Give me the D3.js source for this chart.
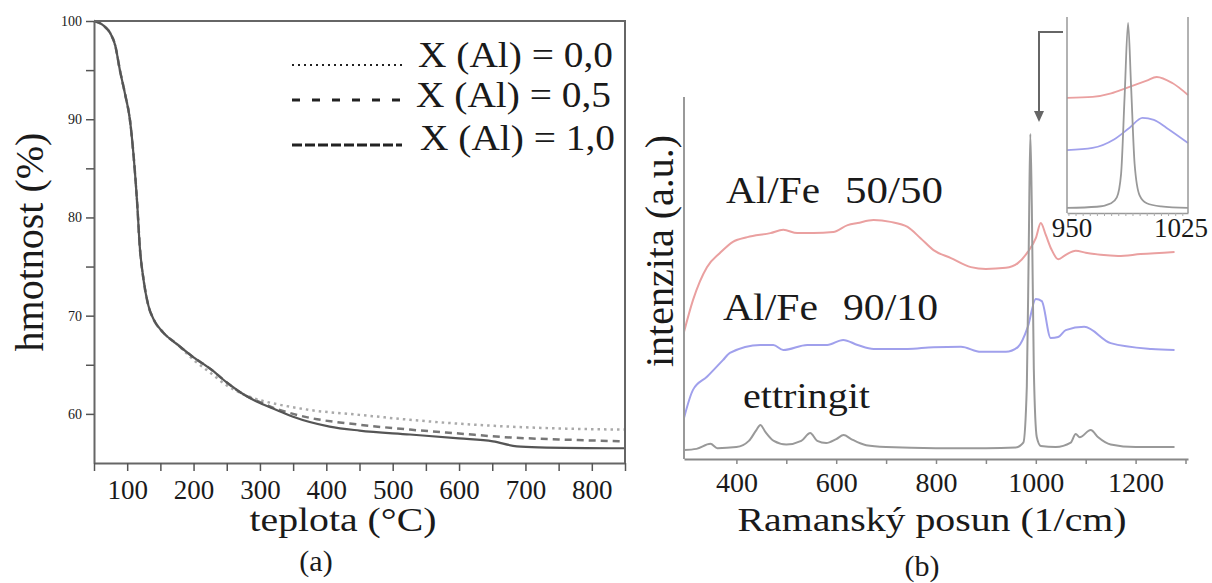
<html>
<head>
<style>
body { margin: 0; background: #fff; }
svg text { font-family: "Liberation Serif", "DejaVu Serif", serif !important; fill: #1a1a1a; }
</style>
</head>
<body>
<script src="https://cdn.jsdelivr.net/npm/d3@7"></script>
<svg width="1212" height="583" id="fig" font-family="Liberation Serif, DejaVu Serif, serif"></svg>
<script>
// (a) TGA - hmotnost vs teplota
var tga00 = [[50,100],[65,99.5],[75,98.7],[82,97.5],[89,95],[97,92.5],[104,90],[110,86],[115,81.5],[119,77],[125,73.5],[132,71],[140,69.6],[154,68.3],[175,67.1],
  [200,65.5],[225,64.2],[250,62.9],[275,62.0],[300,61.4],[325,61.0],[375,60.4],[450,59.9],[526,59.4],[600,59.0],[677,58.7],[760,58.5],[850,58.4]];
var tga05 = [[50,100],[65,99.5],[75,98.7],[82,97.5],[89,95],[97,92.5],[104,90],[110,86],[115,81.5],[119,77],[125,73.5],[132,71],[140,69.6],[154,68.3],[175,67.1],
  [199,65.8],[225,64.6],[250,63.2],[275,62],[300,61.2],[325,60.5],[350,60.0],[375,59.6],[450,58.9],[526,58.4],[600,58.0],[677,57.6],[750,57.4],[850,57.2]];
var tga10 = [[50,100],[65,99.5],[75,98.7],[82,97.5],[89,95],[97,92.5],[104,90],[110,86],[115,81.5],[119,77],[125,73.5],[132,71],[140,69.6],[154,68.3],[175,67.1],
  [199,65.8],[225,64.6],[250,63.2],[275,62],[300,61.1],[325,60.4],[350,59.7],[405,58.7],[450,58.3],[526,57.9],[600,57.5],[651,57.2],[687,56.7],[720,56.6],[850,56.5]];
var legendLabels = ["X (Al) = 0,0", "X (Al) = 0,5", "X (Al) = 1,0"];
var tgaXTicks = [100, 200, 300, 400, 500, 600, 700, 800];
var tgaYTicks = [60, 70, 80, 90, 100];

// (b) Raman spektra
var red5050 = [[295,35.1],[313,43.9],[341,53.0],[367,56.9],[393,60.0],[422,61.3],[468,62.4],[494,63.3],[522,62.4],[554,62.4],[594,62.7],[623,64.6],[643,65.2],[675,66.0],[709,65.5],[743,64.1],[769,61.0],[795,57.7],[830,55.5],[870,53.0],[900,52.5],[940,52.8],[964,54.1],[984,57.2],[1000,61.0],[1010,65.2],[1020,61.9],[1031,58.0],[1045,55.2],[1060,56.4],[1080,57.5],[1100,57.0],[1130,56.4],[1165,56.1],[1210,56.6],[1278,57.2]];
var blue9010 = [[295,11.3],[313,19.1],[341,22.7],[373,27.3],[387,29.3],[448,31.5],[474,31.5],[494,30.1],[542,31.5],[582,31.5],[614,32.9],[643,31.5],[675,30.4],[743,30.4],[795,30.9],[850,31.0],[890,29.6],[940,29.6],[964,30.9],[984,36.5],[1000,44.2],[1012,43.6],[1030,33.4],[1045,33.7],[1060,35.6],[1097,36.5],[1150,32.0],[1232,30.4],[1278,30.1]];
var ettringit = [[295,2.5],[320,2.8],[348,4.2],[362,3.0],[400,3.3],[425,5.0],[440,8.0],[448,9.4],[458,7.5],[475,5.0],[500,4.0],[530,5.0],[548,7.2],[562,5.0],[580,4.4],[600,5.5],[615,6.6],[630,5.5],[660,3.8],[700,3.3],[800,3.0],[900,3.0],[960,3.2],[975,4.5],[982,20],[986,60],[989,89.8],[992,70],[996,25],[1002,6],[1010,3.6],[1040,3.3],[1070,4.5],[1080,6.9],[1088,6.0],[1110,8.0],[1125,6.0],[1150,4.0],[1200,3.3],[1278,3.3]];
var ramanTicks = [400, 600, 800, 1000, 1200];
var ramanMinor = [500, 700, 900, 1100, 1300];

// inset 950-1025
var insetRed = [[944,58.7],[962,59.2],[975,61.0],[986,63.8],[1000,67.5],[1007,69.4],[1018,66.3],[1029,60.2]];
var insetBlue = [[944,32.1],[962,33.2],[977,37.5],[988,43.5],[997,48.5],[1005,47.5],[1014,43.4],[1029,35.7]];
var insetGrey = [[944,2.6],[965,3.2],[975,5.0],[979,8.0],[982,20],[984.5,60],[986.9,97],[989,65],[991.5,25],[995,9],[1000,5],[1010,3.4],[1029,2.6]];
var insetTicks = [950, 1025];

var SERIF = "Liberation Serif, DejaVu Serif, serif";
var svg = d3.select("#fig");

// ---------- (a) ----------
var xa = d3.scaleLinear().domain([50, 850]).range([94, 625]);
var ya = d3.scaleLinear().domain([55, 100]).range([463, 21]);

var lineA = d3.line().x(function(d){ return xa(d[0]); }).y(function(d){ return ya(d[1]); }).curve(d3.curveMonotoneX);

svg.append("path").datum(tga00).attr("d", lineA)
  .attr("fill", "none").attr("stroke", "#aaa").attr("stroke-width", 2.5).attr("stroke-dasharray", "2.5,4");
svg.append("path").datum(tga05).attr("d", lineA)
  .attr("fill", "none").attr("stroke", "#777").attr("stroke-width", 2.5).attr("stroke-dasharray", "7,5");
svg.append("path").datum(tga10).attr("d", lineA)
  .attr("fill", "none").attr("stroke", "#555").attr("stroke-width", 2.2);

var axA_y = svg.append("g").attr("transform", "translate(94,0)")
  .call(d3.axisLeft(ya).tickValues([60,65,70,75,80,85,90,95,100]).tickSize(8).tickPadding(4)
    .tickFormat(function(d){ return tgaYTicks.indexOf(d) >= 0 ? d : ""; }).tickSizeOuter(0));
axA_y.attr("font-family", SERIF);
axA_y.selectAll("text").attr("font-size", 14).style("font-size", "14px").attr("fill", "#333");

var axA_x = svg.append("g").attr("transform", "translate(0,463)")
  .call(d3.axisBottom(xa).tickValues(d3.range(50, 851, 50)).tickSize(8).tickPadding(9)
    .tickFormat(function(d){ return tgaXTicks.indexOf(d) >= 0 ? d : ""; }).tickSizeOuter(0));
axA_x.attr("font-family", SERIF);
axA_x.selectAll("text").style("font-size", "27px");

[axA_x, axA_y].forEach(function(g){
  g.selectAll("path").attr("stroke", "#666").attr("stroke-width", 2);
  g.selectAll("line").attr("stroke", "#555").attr("stroke-width", 1.5);
});
// frame top and right
svg.append("path").attr("d", "M" + xa(50) + "," + ya(100) + "H" + xa(850) + "V" + ya(55))
  .attr("fill", "none").attr("stroke", "#666").attr("stroke-width", 2);

// legend
var legDash = ["2,4", "8,12", "10,3"];
var legBase = [67, 107, 150];
var legLineY = [65, 100, 145];
var legTextX = [418, 416, 420];
legendLabels.forEach(function(l, i){
  svg.append("line").attr("x1", 292).attr("x2", 402).attr("y1", legLineY[i]).attr("y2", legLineY[i])
    .attr("stroke", "#222").attr("stroke-width", i == 0 ? 2 : 3).attr("stroke-dasharray", legDash[i]);
  svg.append("text").attr("x", legTextX[i]).attr("y", legBase[i]).attr("font-size", 36)
    .attr("textLength", 195).attr("lengthAdjust", "spacingAndGlyphs").text(l);
});

svg.append("text").attr("x", 343).attr("y", 531).attr("text-anchor", "middle").attr("font-size", 33)
  .attr("textLength", 187).attr("lengthAdjust", "spacingAndGlyphs").text("teplota (°C)");
svg.append("text").attr("x", 316).attr("y", 571).attr("text-anchor", "middle").attr("font-size", 30).text("(a)");
svg.append("text").attr("transform", "translate(43,242) rotate(-90)").attr("text-anchor", "middle")
  .attr("font-size", 40).text("hmotnost (%)");

// ---------- (b) ----------
var xb = d3.scaleLinear().domain([295, 1305]).range([684, 1188]);
var yb = d3.scaleLinear().domain([0, 100]).range([459, 97]);
var lineB = d3.line().x(function(d){ return xb(d[0]); }).y(function(d){ return yb(d[1]); }).curve(d3.curveMonotoneX);

svg.append("path").datum(red5050).attr("d", lineB).attr("fill", "none").attr("stroke", "#eaa0a0").attr("stroke-width", 2);
svg.append("path").datum(blue9010).attr("d", lineB).attr("fill", "none").attr("stroke", "#a0a0ec").attr("stroke-width", 2);
svg.append("path").datum(ettringit).attr("d", lineB).attr("fill", "none").attr("stroke", "#999").attr("stroke-width", 2);

var axB = svg.append("g").attr("transform", "translate(0,459)")
  .call(d3.axisBottom(xb).tickValues(ramanTicks.concat(ramanMinor)).tickSize(5).tickPadding(8)
    .tickFormat(function(d){ return ramanTicks.indexOf(d) >= 0 ? d : ""; }).tickSizeOuter(0));
axB.attr("font-family", SERIF);
axB.selectAll("text").style("font-size", "28px");
axB.selectAll("path").attr("stroke", "#888").attr("stroke-width", 2);
axB.selectAll("line").attr("stroke", "#888").attr("stroke-width", 1.5);
svg.append("line").attr("x1", xb(295)).attr("x2", xb(295)).attr("y1", yb(100)).attr("y2", yb(0))
  .attr("stroke", "#999").attr("stroke-width", 2);

svg.append("text").attr("x", 726).attr("y", 203).attr("font-size", 38).attr("textLength", 94).attr("lengthAdjust", "spacingAndGlyphs").text("Al/Fe");
svg.append("text").attr("x", 845).attr("y", 203).attr("font-size", 38).attr("textLength", 98).attr("lengthAdjust", "spacingAndGlyphs").text("50/50");
svg.append("text").attr("x", 723).attr("y", 320).attr("font-size", 38).attr("textLength", 95).attr("lengthAdjust", "spacingAndGlyphs").text("Al/Fe");
svg.append("text").attr("x", 843).attr("y", 320).attr("font-size", 38).attr("textLength", 95).attr("lengthAdjust", "spacingAndGlyphs").text("90/10");
svg.append("text").attr("x", 743).attr("y", 408).attr("font-size", 36).attr("textLength", 127).attr("lengthAdjust", "spacingAndGlyphs").text("ettringit");

svg.append("text").attr("x", 932).attr("y", 531).attr("text-anchor", "middle").attr("font-size", 33)
  .attr("textLength", 389).attr("lengthAdjust", "spacingAndGlyphs").text("Ramanský posun (1/cm)");
svg.append("text").attr("x", 922).attr("y", 576).attr("text-anchor", "middle").attr("font-size", 30).text("(b)");
svg.append("text").attr("transform", "translate(673,251) rotate(-90)").attr("text-anchor", "middle")
  .attr("font-size", 40).text("intenzita (a.u.)");

// arrow to the inset
svg.append("path").attr("d", "M1063,32H1039V112").attr("fill", "none").attr("stroke", "#666").attr("stroke-width", 2);
svg.append("path").attr("d", "M1034,111L1044,111L1039,122Z").attr("fill", "#666");

// ---------- inset ----------
var xi = d3.scaleLinear().domain([944, 1029]).range([1067, 1188]);
var yi = d3.scaleLinear().domain([0, 100]).range([213, 17]);
var lineI = d3.line().x(function(d){ return xi(d[0]); }).y(function(d){ return yi(d[1]); }).curve(d3.curveMonotoneX);

svg.append("path").datum(insetRed).attr("d", lineI).attr("fill", "none").attr("stroke", "#eaa0a0").attr("stroke-width", 1.8);
svg.append("path").datum(insetBlue).attr("d", lineI).attr("fill", "none").attr("stroke", "#a0a0ec").attr("stroke-width", 1.8);
svg.append("path").datum(insetGrey).attr("d", lineI).attr("fill", "none").attr("stroke", "#999").attr("stroke-width", 1.8);

var axI = svg.append("g").attr("transform", "translate(0,213)")
  .call(d3.axisBottom(xi).tickValues(d3.range(945, 1029, 5)).tickSize(3).tickFormat("").tickSizeOuter(0));
axI.selectAll("path").attr("stroke", "#999").attr("stroke-width", 1.5);
axI.selectAll("line").attr("stroke", "#aaa").attr("stroke-width", 1);
svg.append("path").attr("d", "M" + xi(944) + "," + yi(100) + "V" + yi(0) + "M" + xi(1029) + "," + yi(100) + "V" + yi(0))
  .attr("fill", "none").attr("stroke", "#999").attr("stroke-width", 1.5);
var insetLabelX = [1072, 1181];
insetTicks.forEach(function(t, i){
  svg.append("text").attr("x", insetLabelX[i]).attr("y", 237).attr("text-anchor", "middle").attr("font-size", 27).text(t);
});
</script>
</body>
</html>
